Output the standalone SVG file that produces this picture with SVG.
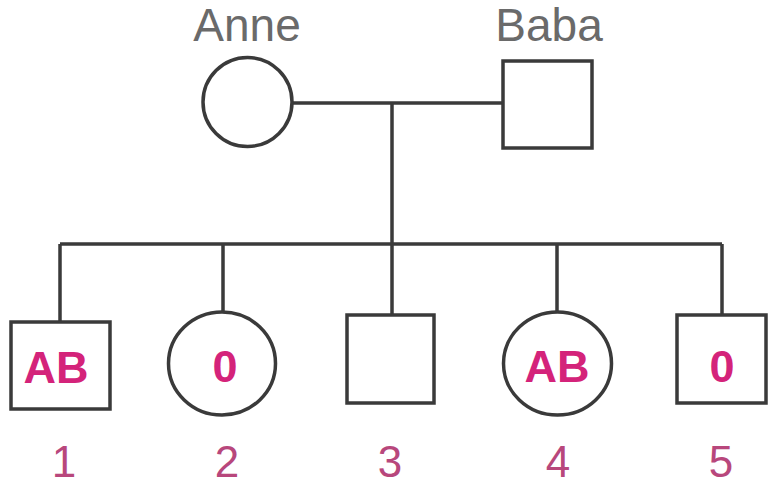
<svg xmlns="http://www.w3.org/2000/svg" width="768" height="488" viewBox="0 0 768 488">
<style>
.sh{fill:#fff;stroke:#3a3a3a;stroke-width:3.5}
.ln{fill:none;stroke:#3a3a3a;stroke-width:3.5}
.nm{font-family:"Liberation Sans",Arial,sans-serif;font-size:46px;fill:#6a6a6a;text-anchor:middle}
.bt{font-family:"Liberation Sans",Arial,sans-serif;font-size:45px;font-weight:bold;fill:#d4237a;text-anchor:middle}
.no{font-family:"Liberation Sans",Arial,sans-serif;font-size:44px;fill:#b8477c;text-anchor:middle}
</style>
<rect width="768" height="488" fill="#fff"/>
<g id="connectors">
<path class="ln" d="M292 103 H503 M392 103 V244 M60 244 H722 M60 244 V322 M223 244 V312 M392 244 V315 M557 244 V312 M722 244 V315"/>
</g>
<g id="anne"><circle class="sh" cx="247.5" cy="102" r="44.5"/><text class="nm" x="247" y="41">Anne</text></g>
<g id="baba"><rect class="sh" x="503" y="61" width="89" height="87"/><text class="nm" x="549" y="41">Baba</text></g>
<g id="child1"><rect class="sh" x="11" y="322" width="99" height="87"/><text class="bt" x="56" y="383">AB</text><text class="no" x="64" y="477">1</text></g>
<g id="child2"><ellipse class="sh" cx="222" cy="363.5" rx="53.5" ry="51.5"/><text class="bt" x="225" y="382">0</text><text class="no" x="227" y="477">2</text></g>
<g id="child3"><rect class="sh" x="347" y="315" width="87" height="88"/><text class="no" x="390" y="477">3</text></g>
<g id="child4"><ellipse class="sh" cx="557.5" cy="363.5" rx="54" ry="51.5"/><text class="bt" x="557" y="382">AB</text><text class="no" x="558" y="477">4</text></g>
<g id="child5"><rect class="sh" x="677" y="315" width="89" height="88"/><text class="bt" x="722" y="382">0</text><text class="no" x="721" y="477">5</text></g>
</svg>
